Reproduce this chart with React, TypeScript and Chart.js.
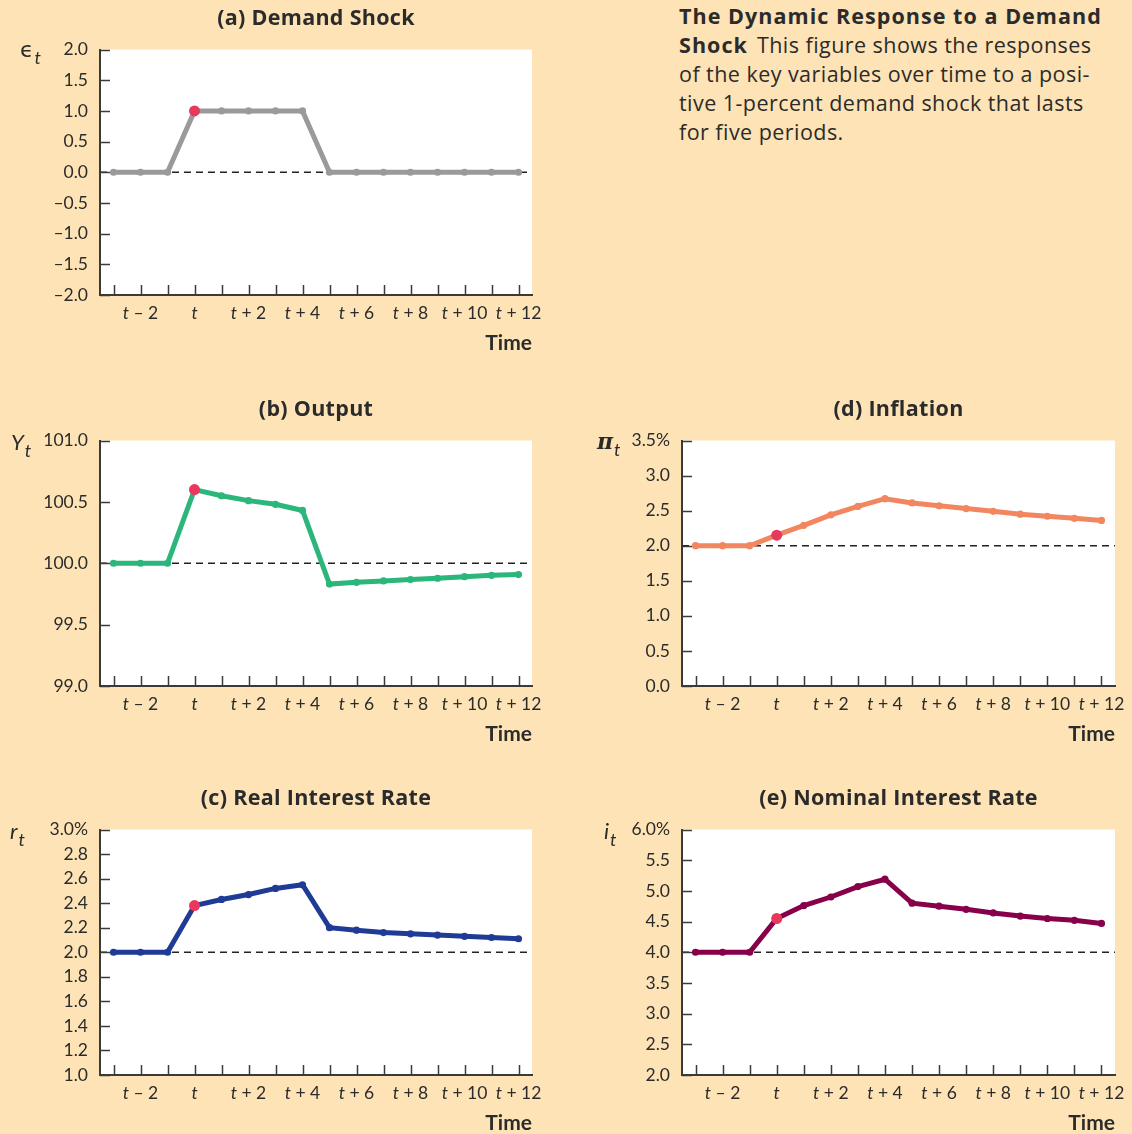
import React, { useEffect, useRef } from "react";
import { Chart, registerables } from "chart.js";

Chart.register(...registerables);

// ---- data ----
const categories = [
  "t – 3", "t – 2", "t – 1", "t", "t + 1", "t + 2", "t + 3", "t + 4",
  "t + 5", "t + 6", "t + 7", "t + 8", "t + 9", "t + 10", "t + 11", "t + 12",
];
const xTickLabels = ["t – 2", "t", "t + 2", "t + 4", "t + 6", "t + 8", "t + 10", "t + 12"];

const demandShock = [0, 0, 0, 1, 1, 1, 1, 1, 0, 0, 0, 0, 0, 0, 0, 0];
const output = [100, 100, 100, 100.6, 100.55, 100.51, 100.48, 100.43, 99.83, 99.845, 99.856, 99.867, 99.878, 99.891, 99.902, 99.908];
const realRate = [2, 2, 2, 2.38, 2.43, 2.47, 2.52, 2.55, 2.2, 2.18, 2.16, 2.15, 2.14, 2.13, 2.12, 2.11];
const inflation = [2, 2, 2, 2.15, 2.29, 2.44, 2.56, 2.67, 2.61, 2.57, 2.53, 2.49, 2.45, 2.42, 2.39, 2.36];
const nominalRate = [4, 4, 4, 4.55, 4.76, 4.9, 5.07, 5.19, 4.8, 4.75, 4.7, 4.64, 4.59, 4.55, 4.52, 4.47];

const shockLabel = "t";

// y-axis ranges: [min, max, step]
const demandShockAxis = [-2, 2, 0.5];
const outputAxis = [99, 101, 0.5];
const realRateAxis = [1, 3, 0.2];
const inflationAxis = [0, 3.5, 0.5];
const nominalRateAxis = [2, 6, 0.5];

// baselines (dashed)
const demandShockBase = 0;
const outputBase = 100;
const realRateBase = 2;
const inflationBase = 2;
const nominalRateBase = 4;

// ---- styles ----
const BG = "#FDE3B5";
const AXIS = "#3a3a3a";
const TEXT = "#2b2b2b";
const RED = "#E8385C";
const FONT = "Lato, 'Open Sans', sans-serif";
const TITLE_FONT = "'Open Sans', Lato, sans-serif";
const PAD = 12;
const XAXIS_H = 40;
const YAXIS_W = 100;

const decorPlugin = {
  id: "panelDecor",
  beforeDraw(chart: any) {
    const { ctx, chartArea: a } = chart;
    ctx.save();
    ctx.fillStyle = "#ffffff";
    ctx.fillRect(a.left, a.top, a.right - a.left, a.bottom - a.top);
    ctx.restore();
  },
  beforeDatasetsDraw(chart: any) {
    const { ctx, chartArea: a, scales } = chart;
    const opts = chart.options.plugins.panelDecor;
    const xs = scales.x;
    const ys = scales.y;
    ctx.save();
    const by = ys.getPixelForValue(opts.baseline);
    ctx.strokeStyle = "#222";
    ctx.lineWidth = 1.4;
    ctx.setLineDash([7, 5]);
    ctx.beginPath();
    ctx.moveTo(a.left, by);
    ctx.lineTo(a.right, by);
    ctx.stroke();
    ctx.setLineDash([]);
    ctx.strokeStyle = AXIS;
    ctx.lineWidth = 1.5;
    for (let i = 0; i < categories.length; i++) {
      const x = Math.round(xs.getPixelForValue(i)) + 0.5;
      ctx.beginPath();
      ctx.moveTo(x, a.bottom);
      ctx.lineTo(x, a.bottom - 10);
      ctx.stroke();
    }
    ys.ticks.forEach((t: any) => {
      const y = Math.round(ys.getPixelForValue(t.value)) + 0.5;
      ctx.beginPath();
      ctx.moveTo(a.left, y);
      ctx.lineTo(a.left + 10, y);
      ctx.stroke();
    });
    ctx.restore();
  },
  afterDraw(chart: any) {
    const { ctx, chartArea: a, scales } = chart;
    const xs = scales.x;
    ctx.save();
    ctx.fillStyle = TEXT;
    ctx.textBaseline = "alphabetic";
    const italic = `italic 17.5px ${FONT}`;
    const regular = `17.5px ${FONT}`;
    xTickLabels.forEach((lab) => {
      const idx = categories.indexOf(lab);
      if (idx < 0) return;
      const x = xs.getPixelForValue(idx);
      const head = lab.slice(0, 1);
      const rest = lab.slice(1);
      ctx.font = italic;
      const w1 = ctx.measureText(head).width;
      ctx.font = regular;
      const w2 = ctx.measureText(rest).width;
      const start = x - (w1 + w2) / 2;
      const y = a.bottom + 24;
      ctx.font = italic;
      ctx.textAlign = "left";
      ctx.fillText(head, start, y);
      ctx.font = regular;
      ctx.fillText(rest, start + w1, y);
    });
    ctx.restore();
  },
};

type PanelProps = {
  plotLeft: number;
  plotTop: number;
  plotW: number;
  plotH: number;
  title: string;
  symbol: string;
  symbolStyle: React.CSSProperties;
  values: number[];
  color: string;
  axis: number[];
  baseline: number;
  percentTop: boolean;
};

function fmt(v: number, percentTop: boolean, max: number) {
  let s = Math.abs(v).toFixed(1);
  if (v < -1e-9) s = "–" + s;
  if (percentTop && Math.abs(v - max) < 1e-9) s += "%";
  return s;
}

function Panel(p: PanelProps) {
  const ref = useRef<HTMLCanvasElement>(null);
  const cw = YAXIS_W + p.plotW + PAD;
  const ch = PAD + p.plotH + XAXIS_H;
  useEffect(() => {
    const canvas = ref.current;
    if (!canvas) return;
    const shockIdx = categories.indexOf(shockLabel);
    const [yMin, yMax, yStep] = p.axis;
    const chart = new Chart(canvas, {
      type: "line",
      data: {
        labels: categories,
        datasets: [
          {
            data: p.values,
            borderColor: p.color,
            backgroundColor: p.color,
            borderWidth: 5,
            pointRadius: p.values.map((_, i) => (i === shockIdx ? 5.5 : 3.6)),
            pointBackgroundColor: p.values.map((_, i) => (i === shockIdx ? RED : p.color)),
            pointBorderWidth: 0,
            tension: 0,
            clip: false as any,
          },
        ],
      },
      options: {
        animation: false,
        responsive: false,
        maintainAspectRatio: false,
        events: [],
        layout: { padding: { top: PAD, right: PAD, bottom: 0, left: 0 } },
        plugins: {
          legend: { display: false },
          tooltip: { enabled: false },
          title: { display: false },
          panelDecor: { baseline: p.baseline },
        } as any,
        scales: {
          x: {
            type: "category",
            offset: true,
            grid: { display: false, drawTicks: false, offset: false },
            border: { display: true, color: AXIS, width: 2 },
            ticks: { display: false },
            afterFit: (s: any) => {
              s.height = XAXIS_H;
            },
          },
          y: {
            min: yMin,
            max: yMax,
            grid: { display: false, drawTicks: false },
            border: { display: true, color: AXIS, width: 2 },
            ticks: {
              stepSize: yStep,
              padding: 12,
              color: TEXT,
              font: { family: FONT, size: 17.5 },
              callback: (v: any) => fmt(Number(v), p.percentTop, yMax),
            },
            afterFit: (s: any) => {
              s.width = YAXIS_W;
            },
          },
        },
      },
      plugins: [decorPlugin],
    });
    // make the plotting area land exactly on the wanted rectangle
    const fit = () => {
      const ca = chart.chartArea;
      const w = chart.width;
      const h = chart.height;
      const dl = ca.left;
      const dt = ca.top;
      const dr = w - ca.right;
      const db = h - ca.bottom;
      const nw = Math.round(dl + p.plotW + dr);
      const nh = Math.round(dt + p.plotH + db);
      if (nw !== w || nh !== h) chart.resize(nw, nh);
      const ca2 = chart.chartArea;
      canvas.style.left = `${p.plotLeft - ca2.left}px`;
      canvas.style.top = `${p.plotTop - ca2.top}px`;
    };
    fit();
    fit();
    return () => chart.destroy();
  }, []);
  return (
    <>
      <canvas
        ref={ref}
        width={cw}
        height={ch}
        style={{ position: "absolute", left: p.plotLeft - YAXIS_W, top: p.plotTop - PAD, width: cw, height: ch }}
      />
      <div
        style={{
          position: "absolute",
          left: p.plotLeft - 40,
          width: p.plotW + 80,
          top: p.plotTop - 47,
          lineHeight: "30px",
          textAlign: "center",
          font: `bold 21.5px ${TITLE_FONT}`,
          letterSpacing: "0.3px",
          color: TEXT,
          whiteSpace: "nowrap",
        }}
      >
        {p.title}
      </div>
      <div
        style={{
          position: "absolute",
          left: p.plotLeft - 90,
          top: p.plotTop - 12,
          lineHeight: "24px",
          color: TEXT,
          whiteSpace: "nowrap",
          ...p.symbolStyle,
        }}
      >
        {p.symbol}
        <span style={{ font: `italic 18px ${FONT}`, position: "relative", top: 7, marginLeft: 1 }}>t</span>
      </div>
      <div
        style={{
          position: "absolute",
          left: p.plotLeft,
          width: p.plotW,
          top: p.plotTop + p.plotH + 35,
          lineHeight: "26px",
          textAlign: "right",
          font: `bold 21px ${FONT}`,
          color: TEXT,
        }}
      >
        Time
      </div>
    </>
  );
}

export default function App() {
  return (
    <div
      style={{
        position: "absolute",
        left: 0,
        top: 0,
        width: 1132,
        height: 1134,
        background: BG,
        overflow: "hidden",
        fontFamily: FONT,
      }}
    >
      <Panel
        plotLeft={100}
        plotTop={49}
        plotW={432}
        plotH={245}
        title="(a) Demand Shock"
        symbol="ϵ"
        symbolStyle={{ font: `22px 'DejaVu Sans', sans-serif`, left: 20 }}
        values={demandShock}
        color="#9A9A9A"
        axis={demandShockAxis}
        baseline={demandShockBase}
        percentTop={false}
      />
      <Panel
        plotLeft={100}
        plotTop={440}
        plotW={432}
        plotH={245}
        title="(b) Output"
        symbol="Y"
        symbolStyle={{ font: `italic 22px ${FONT}`, left: 11 }}
        values={output}
        color="#2BB67B"
        axis={outputAxis}
        baseline={outputBase}
        percentTop={false}
      />
      <Panel
        plotLeft={100}
        plotTop={829}
        plotW={432}
        plotH={245}
        title="(c) Real Interest Rate"
        symbol="r"
        symbolStyle={{ font: `italic 22px ${FONT}`, left: 10 }}
        values={realRate}
        color="#1F3B95"
        axis={realRateAxis}
        baseline={realRateBase}
        percentTop={true}
      />
      <Panel
        plotLeft={682}
        plotTop={440}
        plotW={433}
        plotH={245}
        title="(d) Inflation"
        symbol="π"
        symbolStyle={{ font: `bold italic 22px 'DejaVu Serif', serif`, left: 597 }}
        values={inflation}
        color="#F2875F"
        axis={inflationAxis}
        baseline={inflationBase}
        percentTop={true}
      />
      <Panel
        plotLeft={682}
        plotTop={829}
        plotW={433}
        plotH={245}
        title="(e) Nominal Interest Rate"
        symbol="i"
        symbolStyle={{ font: `italic 22px ${FONT}`, left: 604 }}
        values={nominalRate}
        color="#870049"
        axis={nominalRateAxis}
        baseline={nominalRateBase}
        percentTop={true}
      />
      <div
        style={{
          position: "absolute",
          left: 679,
          top: 1,
          lineHeight: "27.6px",
          font: `21.5px 'Open Sans', sans-serif`,
          letterSpacing: "0.45px",
          color: TEXT,
          whiteSpace: "nowrap",
        }}
      >
        <span style={{ fontWeight: 700, fontSize: 21.5, letterSpacing: "1.05px", lineHeight: "27.6px" }}>The Dynamic Response to a Demand</span>
        <br />
        <span style={{ fontWeight: 700, fontSize: 21.5, letterSpacing: "1.05px", lineHeight: "27.6px", marginRight: 9 }}>Shock</span>
        This figure shows the responses
        <br />
        of the key variables over time to a posi-
        <br />
        tive 1-percent demand shock that lasts
        <br />
        for five periods.
      </div>
    </div>
  );
}
